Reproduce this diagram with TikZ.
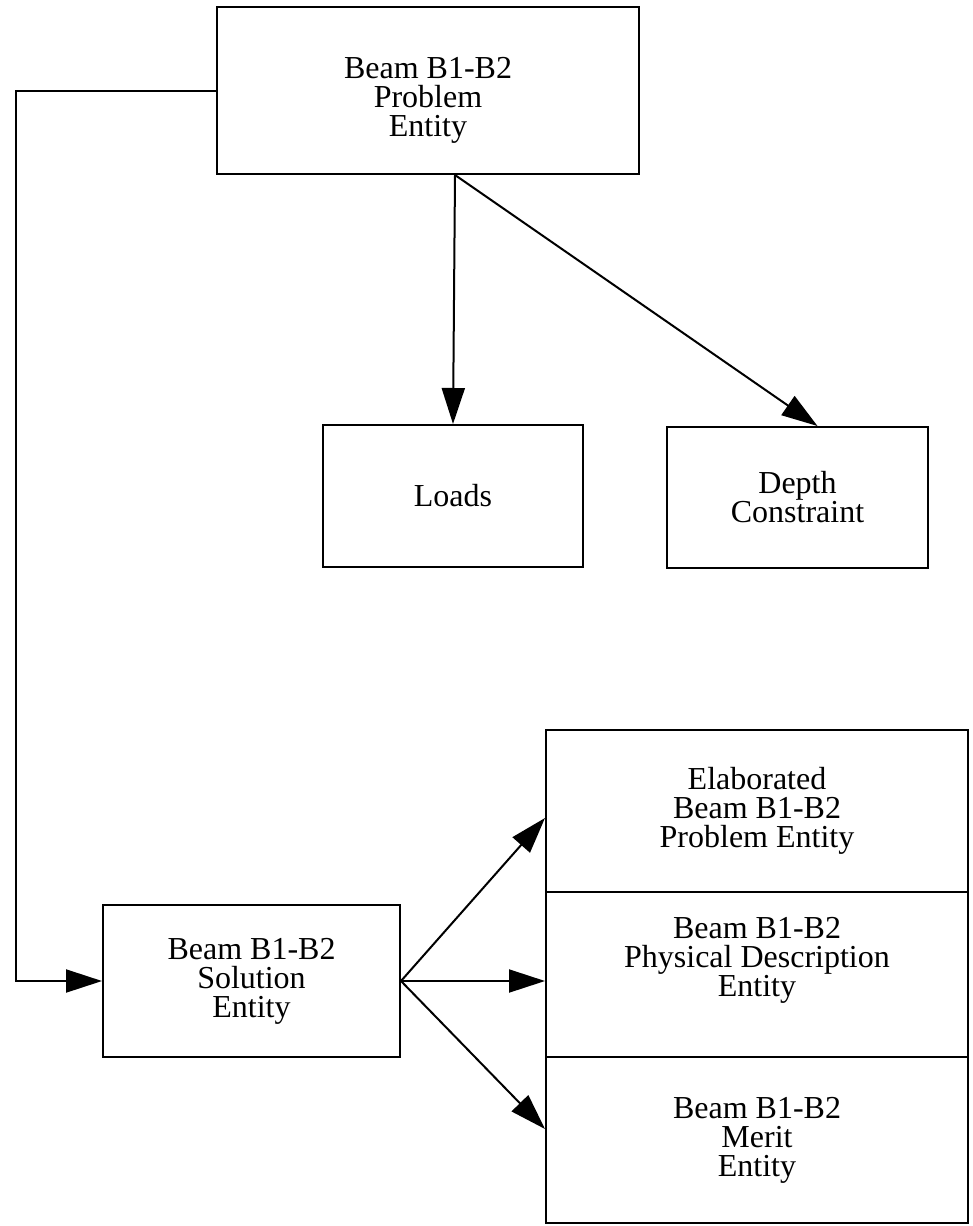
\documentclass[tikz,border=0pt]{standalone}
\usepackage{fontspec}
\setmainfont{Liberation Serif}
\usetikzlibrary{arrows.meta,positioning}
\begin{document}
\begin{tikzpicture}[x=1pt,y=-1pt,
  entity/.style={draw=black,line width=2pt,rectangle,align=center,
    inner sep=0pt,font=\fontsize{32}{29}\selectfont},
  caption/.style={align=center,inner sep=0pt,font=\fontsize{32}{29}\selectfont},
  link/.style={draw=black,line width=2pt,-{Triangle[length=36pt,width=23pt]}}]
\useasboundingbox (0,0) rectangle (972,1226);

% problem entity and its parts
\node[entity,minimum width=422pt,minimum height=167pt] (prob) at (428,90.5) {};
\node[caption] (probtext) at (428,100) {Beam B1-B2\\Problem\\Entity};
\node[entity,minimum width=260pt,minimum height=142pt] (loads) at (453,496)
  {Loads};
\node[entity,minimum width=261pt,minimum height=141pt] (depth) at (797.5,497.5)
  {Depth\\Constraint};

% solution entity
\node[entity,minimum width=297pt,minimum height=152pt] (sol) at (251.5,981)
  {Beam B1-B2\\Solution\\Entity};

% stacked entities produced by the solution
\node[entity,minimum width=422pt,minimum height=162pt] (elab) at (757,811)
  {Elaborated\\Beam B1-B2\\Problem Entity};
\node[entity,minimum width=422pt,minimum height=165pt] (phys) at (757,974.5)
  {Beam B1-B2\\Physical Description\\Entity\\[6pt]};
\node[entity,minimum width=422pt,minimum height=166pt] (merit) at (757,1140)
  {Beam B1-B2\\Merit\\Entity};

% connectors
\draw[link] ([xshift=27pt]prob.south) -- (loads.north);
\draw[link] ([xshift=27pt]prob.south) -- ([xshift=20pt]depth.north);
\draw[link] (prob.west) -- ++(-200,0) |- (sol.west);
\draw[link] (sol.east) -- ([yshift=-7pt]elab.west);
\draw[link] (sol.east) -- (sol.east -| phys.west);
\draw[link] (sol.east) -- ([yshift=11pt]merit.west);
\end{tikzpicture}
\end{document}
